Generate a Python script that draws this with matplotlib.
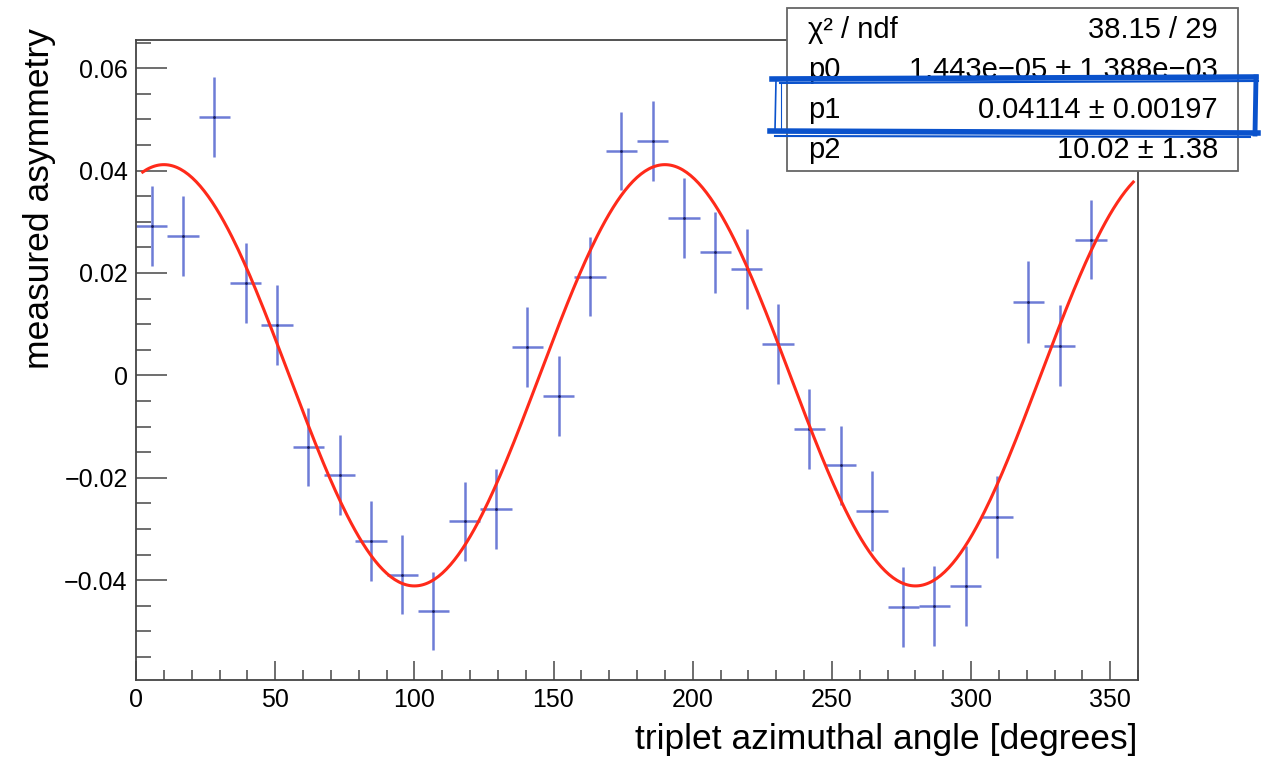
import numpy as np
import matplotlib.pyplot as plt
from matplotlib.patches import Rectangle
from matplotlib.lines import Line2D

plt.rcParams['font.family'] = ['Liberation Sans', 'DejaVu Sans']

# bin centres (32 bins over 0-360 deg, last one empty)
angle = [5.625, 16.875, 28.125, 39.375, 50.625, 61.875, 73.125, 84.375,
         95.625, 106.875, 118.125, 129.375, 140.625, 151.875, 163.125, 174.375,
         185.625, 196.875, 208.125, 219.375, 230.625, 241.875, 253.125, 264.375,
         275.625, 286.875, 298.125, 309.375, 320.625, 331.875, 343.125]
asym = [0.0292, 0.0272, 0.0504, 0.0181, 0.0099, -0.0140, -0.0194, -0.0324,
        -0.0389, -0.0460, -0.0285, -0.0261, 0.0055, -0.0041, 0.0193, 0.0439,
        0.0457, 0.0307, 0.0240, 0.0207, 0.0062, -0.0104, -0.0176, -0.0265,
        -0.0452, -0.0450, -0.0411, -0.0277, 0.0144, 0.0058, 0.0265]
asym_err = [0.0078, 0.0078, 0.0078, 0.0078, 0.0078, 0.0077, 0.0078, 0.0078,
            0.0078, 0.0076, 0.0077, 0.0078, 0.0078, 0.0078, 0.0078, 0.0076,
            0.0078, 0.0078, 0.0079, 0.0078, 0.0078, 0.0078, 0.0077, 0.0078,
            0.0078, 0.0078, 0.0078, 0.0080, 0.0080, 0.0079, 0.0077]
bin_half = 5.625

# fit parameters from the stats box
p0, p1, p2 = 1.443e-05, 0.04114, 10.02
stat_labels = ['\u03c7\u00b2 / ndf', 'p0', 'p1', 'p2']
stat_values = ['38.15 / 29', '1.443e\u221205 \u00b1 1.388e\u221203',
               '0.04114 \u00b1 0.00197', '10.02 \u00b1 1.38']

W, H = 1270, 757
fig = plt.figure(figsize=(12.7, 7.57), dpi=100)
ax = fig.add_axes([136 / W, 1 - 680 / H, (1138 - 136) / W, (680 - 40) / H])

ax.errorbar(angle, asym, yerr=asym_err, xerr=bin_half, fmt='none',
            ecolor='#4a5bcc', elinewidth=1.8, alpha=0.8, zorder=2)
ax.plot(angle, asym, ls='none', marker='.', ms=2, color='#1a1f5c', zorder=3)

xf = np.linspace(2.4, 358.3, 500)
ax.plot(xf, p0 + p1 * np.cos(np.radians(2 * (xf - p2))), color='#ff2a1a', lw=2.2, zorder=4)

ax.set_xlim(0, 360)
ax.set_ylim(-0.0595, 0.0655)
ax.set_xticks(np.arange(0, 351, 50))
ax.set_xticks(np.arange(0, 361, 10), minor=True)
ax.set_yticks([-0.04, -0.02, 0, 0.02, 0.04, 0.06])
ax.set_yticklabels(['\u22120.04', '\u22120.02', '0', '0.02', '0.04', '0.06'])
ax.set_yticks(np.arange(-0.055, 0.066, 0.005), minor=True)
ax.tick_params(axis='y', which='major', direction='in', length=22, width=1.2, color='#555555', labelsize=18, pad=6)
ax.tick_params(axis='y', which='minor', direction='in', length=11, width=1.2, color='#555555')
ax.tick_params(axis='x', which='major', direction='in', length=14, width=1.2, color='#555555', labelsize=18, pad=6)
ax.tick_params(axis='x', which='minor', direction='in', length=7, width=1.2, color='#555555')
for s in ax.spines.values():
    s.set_color('#444444')
    s.set_linewidth(1.3)

fig.text(1137 / W, 1 - 740 / H, 'triplet azimuthal angle [degrees]', ha='right', va='center', fontsize=25.5)
fig.text(40 / W, 1 - 28 / H, 'measured asymmetry', ha='center', va='top', rotation=90, fontsize=25.5)

# stats box
fig.patches.append(Rectangle((787 / W, 1 - 171 / H), (1238 - 787) / W, (171 - 8) / H,
                             transform=fig.transFigure, facecolor='white',
                             edgecolor='#666666', lw=1.3, zorder=5))
for i, (lab, val) in enumerate(zip(stat_labels, stat_values)):
    yy = 1 - (30 + 40 * i) / H
    fig.text(808 / W, yy, lab, ha='left', va='center', fontsize=21, zorder=6)
    fig.text(1218 / W, yy, val, ha='right', va='center', fontsize=21, zorder=6)

# hand-drawn highlight round p1
blue = '#0a52cc'
strokes = [
    ([772, 1256], [79, 77], 4.0),
    ([780, 1258], [83, 81], 1.5),
    ([1256, 1255], [77, 134], 3.5),
    ([1258, 770], [133, 131], 4.0),
    ([1250, 775], [137, 136], 1.5),
    ([776, 775], [80, 130], 1.2),
    ([781, 781], [82, 128], 0.8),
]
for xs, ys, lw in strokes:
    fig.add_artist(Line2D([x / W for x in xs], [1 - y / H for y in ys],
                          transform=fig.transFigure, color=blue, lw=lw, zorder=7))

fig.savefig('out.png', dpi=100)
